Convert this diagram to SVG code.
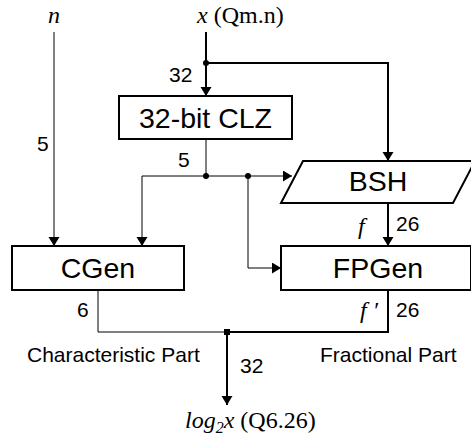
<svg xmlns="http://www.w3.org/2000/svg" width="471" height="443" viewBox="0 0 471 443">
<style>
.box{fill:#fff;stroke:#000;stroke-width:2}
.bl{font-family:"Liberation Sans",Arial,sans-serif;font-size:28.5px;text-anchor:middle;fill:#000}
.lb{font-family:"Liberation Sans",Arial,sans-serif;font-size:21px;fill:#000}
.sr{font-family:"Liberation Serif","Times New Roman",serif;font-size:24px;fill:#000}
.it{font-style:italic}
.thin{fill:none;stroke:#000;stroke-width:1}
.thick{fill:none;stroke:#000;stroke-width:2}
</style>
<defs>
<marker id="ah" markerWidth="12" markerHeight="12" refX="9" refY="5.5" orient="auto" markerUnits="userSpaceOnUse">
<path d="M0,0 L9,5.5 L0,11 Z" fill="#000"/>
</marker>
</defs>
<g id="connectors">
<path class="thin" d="M54,32 V246" marker-end="url(#ah)"/>
<path class="thick" d="M206,32 V96" marker-end="url(#ah)"/>
<path class="thick" d="M206,63 H388 V161" marker-end="url(#ah)"/>
<path class="thin" d="M206,139 V176"/>
<path class="thin" d="M142,176 H292" marker-end="url(#ah)"/>
<path class="thin" d="M142,176 V246" marker-end="url(#ah)"/>
<path class="thin" d="M248,176 V268 H281" marker-end="url(#ah)"/>
<path class="thick" d="M388,203 V246" marker-end="url(#ah)"/>
<path class="thin" d="M98,290 V332 H227"/>
<path class="thick" d="M388,290 V332 H227"/>
<path class="thick" d="M227,332 V405" marker-end="url(#ah)"/>
<circle cx="206" cy="63" r="3"/>
<circle cx="206" cy="176" r="3"/>
<circle cx="248" cy="176" r="3"/>
<rect x="224" y="329" width="6" height="6"/>
</g>
<g id="clz">
<rect class="box" x="119" y="96" width="173" height="43"/>
<text class="bl" x="205.5" y="127.5">32-bit CLZ</text>
</g>
<g id="bsh">
<polygon class="box" points="303,161 475,161 453,203 281,203"/>
<text class="bl" x="378" y="191">BSH</text>
</g>
<g id="cgen">
<rect class="box" x="12" y="246" width="172" height="44"/>
<text class="bl" x="98" y="278">CGen</text>
</g>
<g id="fpgen">
<rect class="box" x="281" y="246" width="190" height="44"/>
<text class="bl" x="378" y="278">FPGen</text>
</g>
<g id="labels">
<text class="sr it" x="54" y="23" text-anchor="middle">n</text>
<text class="sr" x="197" y="23"><tspan class="it">x</tspan> (Qm.n)</text>
<text class="lb" x="169" y="82">32</text>
<text class="lb" x="37" y="151">5</text>
<text class="lb" x="178" y="167">5</text>
<text class="sr it" x="358" y="234">f</text>
<text class="lb" x="396" y="231">26</text>
<text class="lb" x="77" y="317">6</text>
<text class="sr it" x="360" y="318">f ′</text>
<text class="lb" x="396" y="317">26</text>
<text class="lb" x="27" y="362">Characteristic Part</text>
<text class="lb" x="320" y="362">Fractional Part</text>
<text class="lb" x="240" y="373">32</text>
<text class="sr" x="185" y="428"><tspan class="it">log</tspan><tspan class="it" font-size="16" dy="5">2</tspan><tspan class="it" dy="-5">x</tspan> (Q6.26)</text>
</g>
</svg>
